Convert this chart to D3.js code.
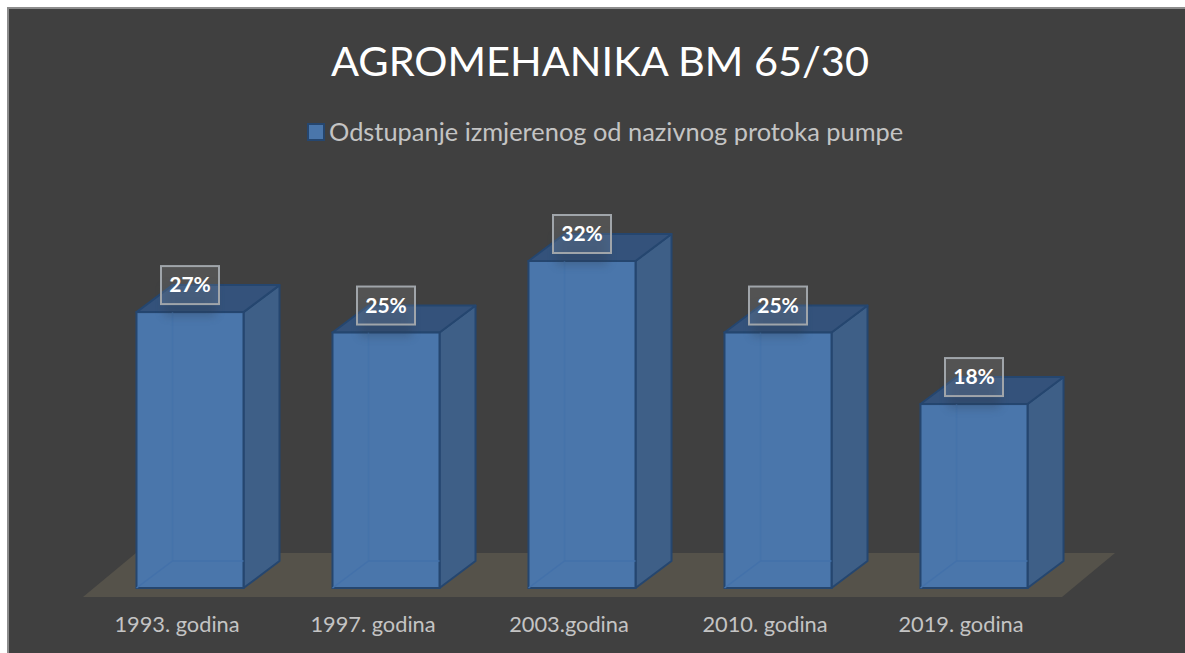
<!DOCTYPE html>
<html>
<head>
<meta charset="utf-8">
<script src="https://cdn.jsdelivr.net/npm/d3@7"></script>
<style>
html, body { margin: 0; padding: 0; background: #fff; }
text { font-family: Lato, "Open Sans", sans-serif; }
</style>
</head>
<body>
<div id="chart"></div>
<script>
// Chart data
var titleText = "AGROMEHANIKA BM 65/30";
var seriesName = "Odstupanje izmjerenog od nazivnog protoka pumpe";
var categories = ["1993. godina", "1997. godina", "2003.godina", "2010. godina", "2019. godina"];
var values = [0.27, 0.25, 0.32, 0.25, 0.18];

var width = 1185, height = 653;
var depthX = 36, depthY = 27; // 3D offset of the bar's back face
var barShift = 15;            // front face sits to the right of the band centre

var svg = d3.select("#chart")
    .append("svg")
    .attr("width", width)
    .attr("height", height)
    .style("display", "block");

// Scales
var x = d3.scaleBand()
    .domain(categories)
    .range([77, 1057])
    .paddingInner(0.454)
    .paddingOuter(0.227);

var y = d3.scaleLinear()
    .domain([0, 0.32])
    .range([588, 261]);

// Background panel
svg.append("rect")
    .attr("x", 8).attr("y", 8)
    .attr("width", 1185).attr("height", 660)
    .attr("fill", "#404040")
    .attr("stroke", "#8c8c8c")
    .attr("stroke-width", 2);

// Floor
svg.append("path")
    .attr("d", "M83,597L1062,597L1115,553L136,553Z")
    .attr("fill", "#55524a");

// Blur used for the soft shadow under the labels
var defs = svg.append("defs");
defs.append("filter")
    .attr("id", "soft")
    .attr("x", "-30%").attr("y", "-30%")
    .attr("width", "160%").attr("height", "160%")
    .append("feGaussianBlur")
    .attr("stdDeviation", 5);

// Bars
var bars = svg.selectAll(".bar")
    .data(values)
    .enter()
    .append("g")
    .attr("class", "bar")
    .attr("transform", function(d, i) {
        return "translate(" + (x(categories[i]) + barShift) + ",0)";
    });

var bw = x.bandwidth();
var edge = "#25466f";

// Side face
bars.append("path")
    .attr("d", function(d) {
        var b = y(0), t = y(d);
        return "M" + bw + "," + b + "L" + bw + "," + t + "L" + (bw + depthX) + "," + (t - depthY) +
            "L" + (bw + depthX) + "," + (b - depthY) + "Z";
    })
    .attr("fill", "#3e5f87")
    .attr("stroke", edge)
    .attr("stroke-width", 2)
    .attr("stroke-linejoin", "round");

// Top face
bars.append("path")
    .attr("d", function(d) {
        var t = y(d);
        return "M0," + t + "L" + depthX + "," + (t - depthY) + "L" + (bw + depthX) + "," + (t - depthY) +
            "L" + bw + "," + t + "Z";
    })
    .attr("fill", "#34527b")
    .attr("stroke", edge)
    .attr("stroke-width", 2)
    .attr("stroke-linejoin", "round");

// Front face
bars.append("rect")
    .attr("x", 0)
    .attr("y", function(d) { return y(d); })
    .attr("width", bw)
    .attr("height", function(d) { return y(0) - y(d); })
    .attr("fill", "#4a76ab")
    .attr("stroke", edge)
    .attr("stroke-width", 2);

// Inner back edges, faint through the front
bars.append("path")
    .attr("d", function() {
        var b = y(0);
        return "M0," + b + "L" + depthX + "," + (b - depthY) + "L" + bw + "," + (b - depthY);
    })
    .attr("fill", "none")
    .attr("stroke", "#4371aa")
    .attr("stroke-width", 1.5);

bars.append("line")
    .attr("x1", depthX)
    .attr("x2", depthX)
    .attr("y1", function(d) { return y(d); })
    .attr("y2", y(0) - depthY)
    .attr("stroke", "#4371aa")
    .attr("stroke-opacity", 0.6)
    .attr("stroke-width", 1.5);

// Shadow from the data labels on the bar top
bars.append("rect")
    .attr("x", bw / 2 - 26)
    .attr("y", function(d) { return y(d) - 26; })
    .attr("width", 52)
    .attr("height", 30)
    .attr("fill", "#2a3a50")
    .attr("opacity", 0.3)
    .attr("filter", "url(#soft)");

// Data labels
var labelW = 58, labelH = 38;
bars.append("rect")
    .attr("x", bw / 2 - labelW / 2)
    .attr("y", function(d) { return y(d) - 27 - labelH / 2; })
    .attr("width", labelW)
    .attr("height", labelH)
    .attr("fill", "#ffffff")
    .attr("fill-opacity", 0.1)
    .attr("stroke", "#a0a5aa")
    .attr("stroke-width", 2);

bars.append("text")
    .attr("x", bw / 2)
    .attr("y", function(d) { return y(d) - 27; })
    .attr("dy", "0.34em")
    .attr("text-anchor", "middle")
    .attr("fill", "#ffffff")
    .attr("font-size", 21)
    .attr("font-weight", 700)
    .text(function(d) { return d3.format(".0%")(d); });

// Category axis
var axis = svg.append("g")
    .attr("transform", "translate(2,612)")
    .call(d3.axisBottom(x).tickSize(0).tickPadding(0));
axis.select(".domain").remove();
axis.selectAll("text")
    .attr("fill", "#c4c4c4")
    .attr("font-size", 21.8)
    .attr("font-family", "Lato, sans-serif")
    .attr("dy", "0.9em");

// Title
svg.append("text")
    .attr("x", 600)
    .attr("y", 76)
    .attr("text-anchor", "middle")
    .attr("fill", "#ffffff")
    .attr("font-size", 41.5)
    .text(titleText);

// Legend
svg.append("rect")
    .attr("x", 308).attr("y", 124)
    .attr("width", 16).attr("height", 16)
    .attr("fill", "#4a76ab")
    .attr("stroke", edge)
    .attr("stroke-width", 2);

svg.append("text")
    .attr("x", 329)
    .attr("y", 141)
    .attr("fill", "#c4c4c4")
    .attr("font-size", 25.4)
    .text(seriesName);
</script>
</body>
</html>
